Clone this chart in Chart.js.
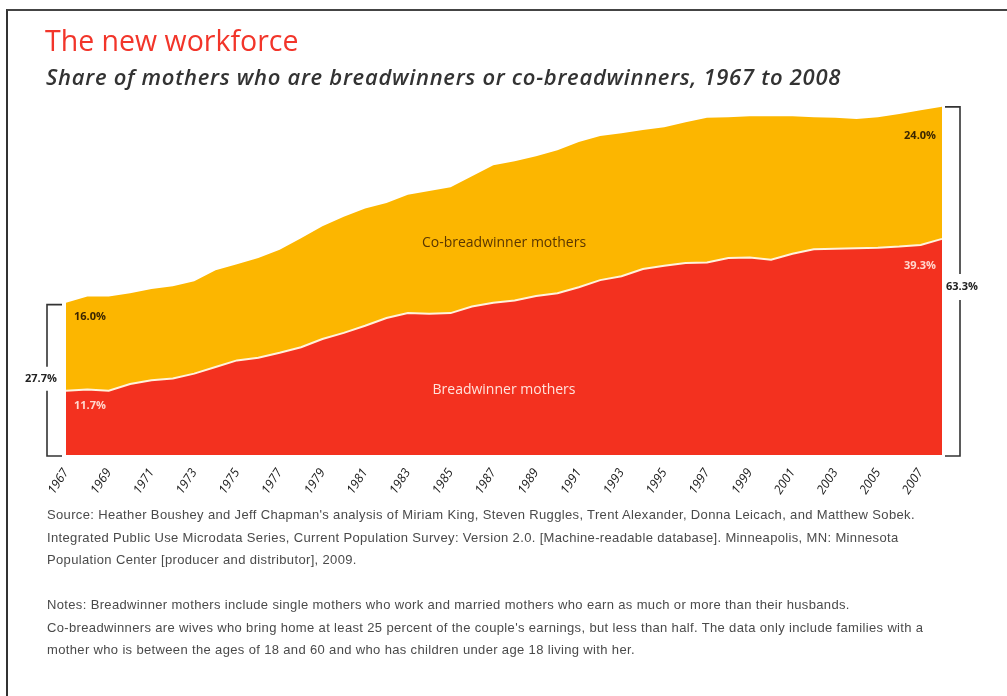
<!DOCTYPE html>
<html>
<head>
<meta charset="utf-8">
<script src="https://cdn.jsdelivr.net/npm/chart.js@4.4.1/dist/chart.umd.min.js"></script>
<style>
    body { margin: 0; background: #fff; }
    #wrap { position: relative; width: 1007px; height: 696px; overflow: hidden; }
    #frame { position: absolute; left: 6px; top: 9px; right: 0; bottom: 0; border-top: 2px solid #444; border-left: 2px solid #333; }
    #chart { position: absolute; left: 0; top: 0; }
    .title { position: absolute; left: 45px; top: 21px; font: 500 28.5px "Open Sans", sans-serif; color: #f2352a; }
    .subtitle { position: absolute; left: 46px; top: 61px; font: italic 600 22px "Open Sans", sans-serif; letter-spacing: 0.7px; color: #333; }
    .notes { position: absolute; left: 47px; font: 13px "Liberation Sans", sans-serif; letter-spacing: 0.35px; color: #4a4a4a; line-height: 22.5px; white-space: nowrap; }
</style>
</head>
<body>
<div id="wrap">
    <div id="frame"></div>
    <canvas id="chart" width="1007" height="696"></canvas>
    <div class="title">The new workforce</div>
    <div class="subtitle">Share of mothers who are breadwinners or co-breadwinners, 1967 to 2008</div>
    <div class="notes" style="top: 504px;">
        Source: Heather Boushey and Jeff Chapman's analysis of Miriam King, Steven Ruggles, Trent Alexander, Donna Leicach, and Matthew Sobek.<br>
        Integrated Public Use Microdata Series, Current Population Survey: Version 2.0. [Machine-readable database]. Minneapolis, MN: Minnesota<br>
        Population Center [producer and distributor], 2009.
    </div>
    <div class="notes" style="top: 594px;">
        Notes: Breadwinner mothers include single mothers who work and married mothers who earn as much or more than their husbands.<br>
        Co-breadwinners are wives who bring home at least 25 percent of the couple's earnings, but less than half. The data only include families with a<br>
        mother who is between the ages of 18 and 60 and who has children under age 18 living with her.
    </div>
</div>
<script>
const years = ['1967', '1968', '1969', '1970', '1971', '1972', '1973', '1974', '1975', '1976',
    '1977', '1978', '1979', '1980', '1981', '1982', '1983', '1984', '1985', '1986',
    '1987', '1988', '1989', '1990', '1991', '1992', '1993', '1994', '1995', '1996',
    '1997', '1998', '1999', '2000', '2001', '2002', '2003', '2004', '2005', '2006',
    '2007', '2008'];

// share of mothers who are breadwinners (%)
const breadwinner = [11.7, 11.9, 11.7, 12.9, 13.6, 13.9, 14.8, 16.0, 17.2, 17.7,
    18.6, 19.6, 21.1, 22.2, 23.5, 24.9, 25.8, 25.7, 25.8, 27.0,
    27.7, 28.1, 28.9, 29.4, 30.5, 31.8, 32.5, 33.8, 34.4, 34.9,
    35.0, 35.8, 35.9, 35.5, 36.6, 37.4, 37.5, 37.6, 37.7, 37.9,
    38.2, 39.3];

// share of mothers who are co-breadwinners (%), stacked on top
const coBreadwinner = [16.0, 16.9, 17.1, 16.5, 16.6, 16.8, 16.8, 17.6, 17.5, 18.1,
    18.7, 19.8, 20.5, 21.1, 21.3, 20.9, 21.5, 22.3, 22.9, 23.7,
    25.0, 25.3, 25.4, 26.0, 26.4, 26.2, 26.0, 25.3, 25.2, 25.6,
    26.3, 25.6, 25.7, 26.1, 25.0, 24.0, 23.8, 23.5, 23.7, 24.1,
    24.5, 24.0];

const seriesNames = ['Breadwinner mothers', 'Co-breadwinner mothers'];
const totalLabels = ['27.7%', '63.3%'];
const endLabels = { bread: ['11.7%', '39.3%'], co: ['16.0%', '24.0%'] };

const RED = '#f3311f';
const GOLD = '#fcb600';

// brackets, end labels and area names
const annotate = {
    id: 'annotate',
    afterDatasetsDraw(chart) {
        const ctx = chart.ctx;
        const x = chart.scales.x, y = chart.scales.y;
        const last = years.length - 1;
        const x0 = x.getPixelForValue(0), x1 = x.getPixelForValue(last);
        const base = y.getPixelForValue(0);
        const top0 = y.getPixelForValue(breadwinner[0] + coBreadwinner[0]);
        const top1 = y.getPixelForValue(breadwinner[last] + coBreadwinner[last]);
        const red0 = y.getPixelForValue(breadwinner[0]);
        const red1 = y.getPixelForValue(breadwinner[last]);

        ctx.save();
        ctx.strokeStyle = '#333';
        ctx.lineWidth = 1.6;
        ctx.font = 'bold 11px "Open Sans", sans-serif';
        ctx.textBaseline = 'middle';

        // left bracket
        const lx = x0 - 19;
        const lmid = (top0 + base) / 2;
        ctx.beginPath();
        ctx.moveTo(x0 - 4, top0 + 2); ctx.lineTo(lx, top0 + 2); ctx.lineTo(lx, lmid - 12);
        ctx.moveTo(lx, lmid + 12); ctx.lineTo(lx, base + 1); ctx.lineTo(x0 - 4, base + 1);
        ctx.stroke();
        ctx.fillStyle = '#222';
        ctx.textAlign = 'center';
        ctx.fillText(totalLabels[0], lx - 6, lmid);

        // right bracket
        const rx = x1 + 18;
        const rmid = (top1 + base) / 2 + 6;
        ctx.beginPath();
        ctx.moveTo(x1 + 3, top1); ctx.lineTo(rx, top1); ctx.lineTo(rx, rmid - 13);
        ctx.moveTo(rx, rmid + 13); ctx.lineTo(rx, base + 1); ctx.lineTo(x1 + 3, base + 1);
        ctx.stroke();
        ctx.textAlign = 'left';
        ctx.fillText(totalLabels[1], rx - 14, rmid);

        // end values
        ctx.fillStyle = '#3a2500';
        ctx.textAlign = 'left';
        ctx.fillText(endLabels.co[0], x0 + 8, top0 + 14);
        ctx.textAlign = 'right';
        ctx.fillText(endLabels.co[1], x1 - 6, top1 + 29);
        ctx.fillStyle = '#ffd9cf';
        ctx.textAlign = 'left';
        ctx.fillText(endLabels.bread[0], x0 + 8, red0 + 15);
        ctx.textAlign = 'right';
        ctx.fillText(endLabels.bread[1], x1 - 6, red1 + 27);

        // series names
        const cx = (chart.chartArea.left + chart.chartArea.right) / 2;
        ctx.font = '14px "Open Sans", sans-serif';
        ctx.textAlign = 'center';
        ctx.fillStyle = '#5a3600';
        ctx.fillText(seriesNames[1], cx, y.getPixelForValue(38.5));
        ctx.fillStyle = '#ffe3dc';
        ctx.fillText(seriesNames[0], cx, y.getPixelForValue(11.8));
        ctx.restore();
    }
};

new Chart(document.getElementById('chart'), {
    type: 'line',
    data: {
        labels: years,
        datasets: [
            {
                label: seriesNames[0],
                data: breadwinner,
                backgroundColor: RED,
                borderColor: '#fff3dc',
                borderWidth: 2,
                fill: 'origin',
                pointRadius: 0,
                tension: 0,
                order: 1
            },
            {
                label: seriesNames[1],
                data: coBreadwinner,
                backgroundColor: GOLD,
                borderColor: GOLD,
                borderWidth: 0,
                fill: '-1',
                pointRadius: 0,
                tension: 0,
                order: 2
            }
        ]
    },
    options: {
        responsive: false,
        animation: false,
        layout: { padding: { left: 66, right: 65, top: 70, bottom: 181 } },
        plugins: {
            legend: { display: false },
            tooltip: { enabled: false }
        },
        scales: {
            x: {
                grid: { display: false },
                border: { display: false },
                afterFit: (scale) => { scale.height = 60; },
                ticks: {
                    autoSkip: false,
                    maxRotation: 57,
                    minRotation: 57,
                    padding: 3,
                    color: '#1a1a1a',
                    font: { family: '"Open Sans", sans-serif', size: 12.5, style: 'italic' },
                    callback: function(value, index) {
                        return index % 2 === 0 ? this.getLabelForValue(value) : '';
                    }
                }
            },
            y: {
                display: false,
                stacked: true,
                min: 0,
                max: 70
            }
        }
    },
    plugins: [annotate]
});
</script>
</body>
</html>
